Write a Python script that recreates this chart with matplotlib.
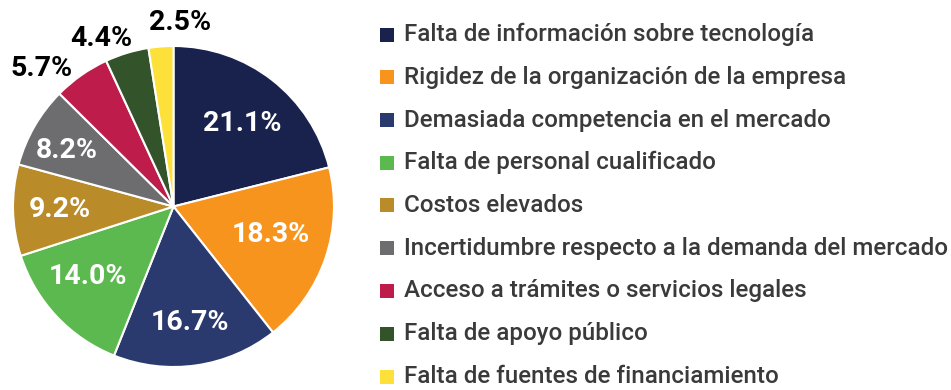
import numpy as np
import matplotlib.pyplot as plt
from matplotlib.patches import Rectangle

plt.rcParams['font.family'] = ['Roboto', 'DejaVu Sans']

categorias = [
    'Falta de información sobre tecnología',
    'Rigidez de la organización de la empresa',
    'Demasiada competencia en el mercado',
    'Falta de personal cualificado',
    'Costos elevados',
    'Incertidumbre respecto a la demanda del mercado',
    'Acceso a trámites o servicios legales',
    'Falta de apoyo público',
    'Falta de fuentes de financiamiento',
]
porcentajes = [21.1, 18.3, 16.7, 14.0, 9.2, 8.2, 5.7, 4.4, 2.5]
colores = ['#18224d', '#f7941d', '#2b3a6e', '#5cb94f', '#ba8c29',
           '#6d6d6f', '#be1c4b', '#33542a', '#fde03a']

# posición de cada etiqueta: fracción del radio y giro respecto al centro del sector (grados)
dist_etiqueta = [0.67, 0.63, 0.73, 0.69, 0.71, 0.75, 1.19, 1.14, 1.15]
giro_etiqueta = [-1.7, 2.8, -0.2, -3.7, 0.4, 2.1, 8.8, 6.5, -6.5]

W, H = 951, 390
fig = plt.figure(figsize=(W / 100, H / 100), dpi=100)
ax = fig.add_axes([13 / W, 23 / H, 321 / W, 321 / H])

wedges, _ = ax.pie(porcentajes, colors=colores, startangle=90, counterclock=False,
                   wedgeprops=dict(edgecolor='white', linewidth=1.5))
ax.set_aspect('equal')
ax.set_xlim(-1, 1)
ax.set_ylim(-1, 1)

for w, v, d, g in zip(wedges, porcentajes, dist_etiqueta, giro_etiqueta):
    ang = np.deg2rad((w.theta1 + w.theta2) / 2 + g)
    color = 'white' if d < 1 else 'black'
    ax.text(d * np.cos(ang), d * np.sin(ang), f'{v:.1f}%', ha='center', va='center',
            fontsize=20.5, fontweight='bold', color=color, clip_on=False)

# leyenda: cuadro de color + texto por fila
paso = 42.75
for i, (cat, col) in enumerate(zip(categorias, colores)):
    yc = 34.5 + paso * i
    fig.patches.append(Rectangle((380 / W, 1 - (yc + 7) / H), 14 / W, 14 / H,
                                 transform=fig.transFigure, facecolor=col,
                                 edgecolor='none'))
    fig.text(404 / W, 1 - (yc + 6.5) / H, cat, ha='left', va='baseline',
             fontsize=17.4, fontweight='medium', color='#3a3a3a')

fig.savefig('out.png', dpi=100)
